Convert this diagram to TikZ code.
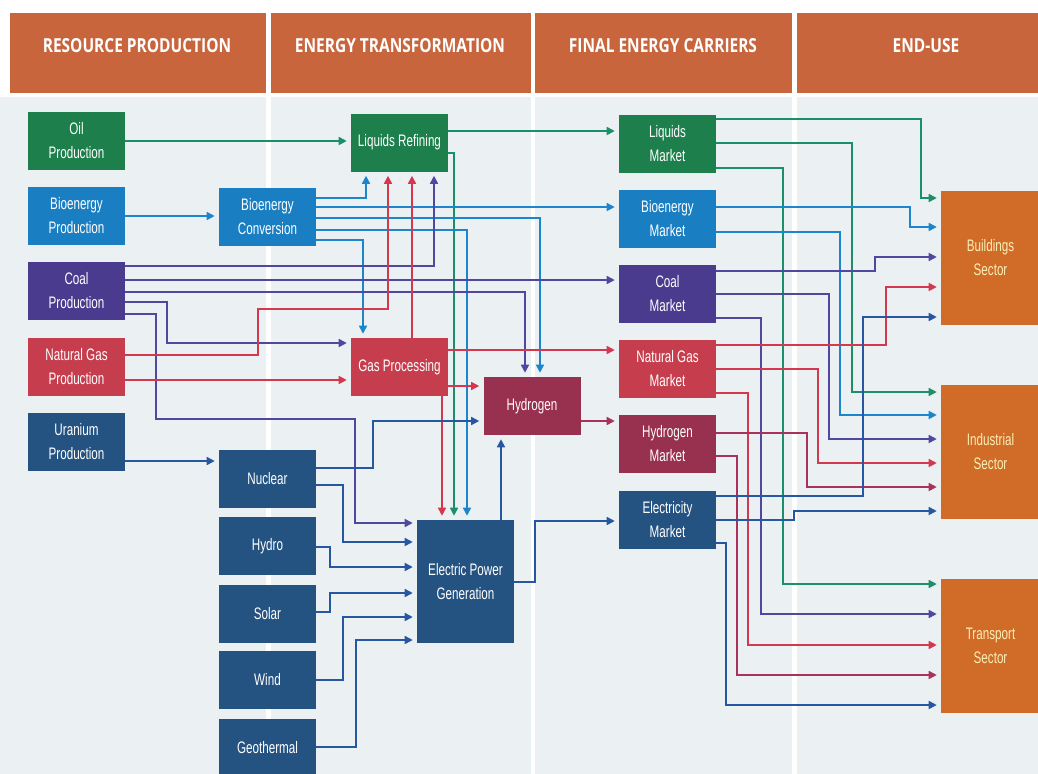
\documentclass[tikz,border=0pt]{standalone}
\usepackage{fontspec}
\newfontfamily\nodefont{Liberation Sans}[FakeStretch=0.7]
\newfontfamily\headfont{Open Sans}[FakeStretch=0.8]
\usetikzlibrary{arrows.meta}

% box fills
\definecolor{cHead}{HTML}{C9653C}
\definecolor{cSector}{HTML}{D06B28}
\definecolor{cSectorTxt}{HTML}{FBEFB5}
\definecolor{cOil}{HTML}{1D7F4C}
\definecolor{cBio}{HTML}{1A7EC2}
\definecolor{cCoal}{HTML}{4A3B8E}
\definecolor{cGas}{HTML}{C63E4D}
\definecolor{cHyd}{HTML}{983050}
\definecolor{cElec}{HTML}{245281}
% connector colours
\definecolor{lOil}{HTML}{1C8F68}
\definecolor{lBio}{HTML}{1C86CC}
\definecolor{lCoal}{HTML}{5247A0}
\definecolor{lGas}{HTML}{D4384F}
\definecolor{lHyd}{HTML}{A8325A}
\definecolor{lElec}{HTML}{2657A0}
% panel background
\definecolor{cPanel}{HTML}{EBF0F3}

\begin{document}
\begin{tikzpicture}[x=0.75pt,y=-0.75pt,
  blk/.style={draw=none, inner sep=0pt, minimum width=72.75pt, minimum height=43.5pt,
    text=white, align=center, font=\nodefont\fontsize{12.5}{18}\selectfont},
  sector/.style={blk, fill=cSector, text=cSectorTxt, minimum width=74.25pt, minimum height=100.5pt},
  hdr/.style={draw=none, fill=cHead, inner sep=0pt, minimum height=60pt},
  hdrtxt/.style={text=white, inner sep=0pt, font=\headfont\bfseries\fontsize{14.5}{17}\selectfont},
  ln/.style={line width=1.15pt, -{Triangle[length=6pt,width=6pt]}, shorten >=3pt},
]
\useasboundingbox (0,0) rectangle (1038,774);
\fill[white] (0,0) rectangle (1038,774);
% column panels
\fill[cPanel] (0,97) rectangle (266,774);
\fill[cPanel] (271,97) rectangle (531,774);
\fill[cPanel] (535,97) rectangle (792,774);
\fill[cPanel] (797,97) rectangle (1038,774);

% column headers
\node[hdr, minimum width=192pt] (hA) at (138,53) {};
\node[hdr, minimum width=195pt] (hB) at (401,53) {};
\node[hdr, minimum width=192.75pt] (hC) at (663.5,53) {};
\node[hdr, minimum width=186pt] (hD) at (921,53) {};
\node[hdrtxt] (tA) at (137,46) {RESOURCE PRODUCTION};
\node[hdrtxt] (tB) at (400,46) {ENERGY TRANSFORMATION};
\node[hdrtxt] (tC) at (663,46) {FINAL ENERGY CARRIERS};
\node[hdrtxt] (tD) at (926,46) {END-USE};

% resource production
\node[blk, fill=cOil]  (oil) at (76.5,141)   {Oil\\Production};
\node[blk, fill=cBio]  (bp)  at (76.5,216)   {Bioenergy\\Production};
\node[blk, fill=cCoal] (cp)  at (76.5,291)   {Coal\\Production};
\node[blk, fill=cGas]  (np)  at (76.5,366.5) {Natural Gas\\Production};
\node[blk, fill=cElec] (up)  at (76.5,441.5) {Uranium\\Production};

% energy transformation
\node[blk, fill=cBio]  (bc)  at (267.5,217)  {Bioenergy\\Conversion};
\node[blk, fill=cOil]  (lr)  at (399.5,142.5) {Liquids Refining};
\node[blk, fill=cGas]  (gp)  at (399.5,367)  {Gas Processing};
\node[blk, fill=cHyd]  (h2)  at (532,406)    {Hydrogen};
\node[blk, fill=cElec] (nuc) at (267.5,479)  {Nuclear};
\node[blk, fill=cElec] (hyd) at (267.5,546)  {Hydro};
\node[blk, fill=cElec] (sol) at (267.5,613.5) {Solar};
\node[blk, fill=cElec] (wnd) at (267.5,680)  {Wind};
\node[blk, fill=cElec] (geo) at (267.5,747.5) {Geothermal};
\node[blk, fill=cElec, minimum height=92.25pt] (epg) at (465.5,581.5) {Electric Power\\Generation};

% final energy carriers
\node[blk, fill=cOil]  (lm) at (667.5,144)   {Liquids\\Market};
\node[blk, fill=cBio]  (bm) at (667.5,219)   {Bioenergy\\Market};
\node[blk, fill=cCoal] (cm) at (667.5,294)   {Coal\\Market};
\node[blk, fill=cGas]  (nm) at (667.5,368.5) {Natural Gas\\Market};
\node[blk, fill=cHyd]  (hm) at (667.5,444)   {Hydrogen\\Market};
\node[blk, fill=cElec] (em) at (667.5,519.5) {Electricity\\Market};

% end use
\node[sector] (bld) at (990.5,258)   {Buildings\\Sector};
\node[sector] (ind) at (990.5,451.5) {Industrial\\Sector};
\node[sector] (trn) at (990.5,645.5) {Transport\\Sector};

% oil and liquids
\draw[ln, lOil] (oil.east) -- (lr.west |- oil.east);
\draw[ln, lOil] (lr.east |- 0,131) -- (lm.west |- 0,131);
\draw[ln, lOil] (lr.east |- 0,153) -| (epg.north -| 454,0);
\draw[ln, lOil] (lm.east |- 0,119) -| (921,198) -- (bld.west |- 0,198);
\draw[ln, lOil] (lm.east |- 0,143) -| (852,392) -- (ind.west |- 0,392);
\draw[ln, lOil] (lm.east |- 0,168) -| (783,584) -- (trn.west |- 0,584);

% bioenergy
\draw[ln, lBio] (bp.east) -- (bc.west |- bp.east);
\draw[ln, lBio] (bc.east |- 0,198) -| (lr.south -| 366,0);
\draw[ln, lBio] (bc.east |- 0,207) -- (bm.west |- 0,207);
\draw[ln, lBio] (bc.east |- 0,218) -| (h2.north -| 540,0);
\draw[ln, lBio] (bc.east |- 0,230) -| (epg.north -| 467,0);
\draw[ln, lBio] (bc.east |- 0,240) -| (gp.north -| 363,0);
\draw[ln, lBio] (bm.east |- 0,207) -| (910,227) -- (bld.west |- 0,227);
\draw[ln, lBio] (bm.east |- 0,232) -| (840,415) -- (ind.west |- 0,415);

% coal
\draw[ln, lCoal] (cp.east |- 0,266) -| (lr.south -| 434,0);
\draw[ln, lCoal] (cp.east |- 0,280) -- (cm.west |- 0,280);
\draw[ln, lCoal] (cp.east |- 0,292) -| (h2.north -| 525,0);
\draw[ln, lCoal] (cp.east |- 0,302) -| (167,343) -- (gp.west |- 0,343);
\draw[ln, lCoal] (cp.east |- 0,314) -| (156,419) -| (355,523) -- (epg.west |- 0,523);
\draw[ln, lCoal] (cm.east |- 0,271) -| (875,257) -- (bld.west |- 0,257);
\draw[ln, lCoal] (cm.east |- 0,294) -| (829,439) -- (ind.west |- 0,439);
\draw[ln, lCoal] (cm.east |- 0,318) -| (761,614) -- (trn.west |- 0,614);

% natural gas
\draw[ln, lGas] (np.east |- 0,355) -| (258,309) -| (lr.south -| 388,0);
\draw[ln, lGas] (np.east |- 0,380) -- (gp.west |- 0,380);
\draw[ln, lGas] (gp.north -| 412,0) -- (lr.south -| 412,0);
\draw[ln, lGas] (gp.east |- 0,350) -- (nm.west |- 0,350);
\draw[ln, lGas] (gp.east |- 0,386) -- (h2.west |- 0,386);
\draw[ln, lGas] (gp.south -| 442,0) -- (epg.north -| 442,0);
\draw[ln, lGas] (nm.east |- 0,345) -| (886,287) -- (bld.west |- 0,287);
\draw[ln, lGas] (nm.east |- 0,369) -| (818,463) -- (ind.west |- 0,463);
\draw[ln, lGas] (nm.east |- 0,393) -| (748,645) -- (trn.west |- 0,645);

% hydrogen
\draw[ln, lHyd] (h2.east |- 0,421) -- (hm.west |- 0,421);
\draw[ln, lHyd] (hm.east |- 0,433) -| (807,487) -- (ind.west |- 0,487);
\draw[ln, lHyd] (hm.east |- 0,456) -| (737,675) -- (trn.west |- 0,675);

% electricity
\draw[ln, lElec] (up.east |- 0,461) -- (nuc.west |- 0,461);
\draw[ln, lElec] (nuc.east |- 0,468) -| (373,421) -- (h2.west |- 0,421);
\draw[ln, lElec] (nuc.east |- 0,485) -| (343,542) -- (epg.west |- 0,542);
\draw[ln, lElec] (hyd.east |- 0,547) -| (330,567) -- (epg.west |- 0,567);
\draw[ln, lElec] (sol.east |- 0,612) -| (330,593) -- (epg.west |- 0,593);
\draw[ln, lElec] (wnd.east |- 0,680) -| (343,617) -- (epg.west |- 0,617);
\draw[ln, lElec] (geo.east |- 0,747) -| (356,640) -- (epg.west |- 0,640);
\draw[ln, lElec] (epg.north -| 501,0) -- (h2.south -| 501,0);
\draw[ln, lElec] (epg.east |- 0,582) -| (535,521) -- (em.west |- 0,521);
\draw[ln, lElec] (em.east |- 0,496) -| (863,317) -- (bld.west |- 0,317);
\draw[ln, lElec] (em.east |- 0,520) -| (794,511) -- (ind.west |- 0,511);
\draw[ln, lElec] (em.east |- 0,543) -| (726,705) -- (trn.west |- 0,705);
\end{tikzpicture}
\end{document}
